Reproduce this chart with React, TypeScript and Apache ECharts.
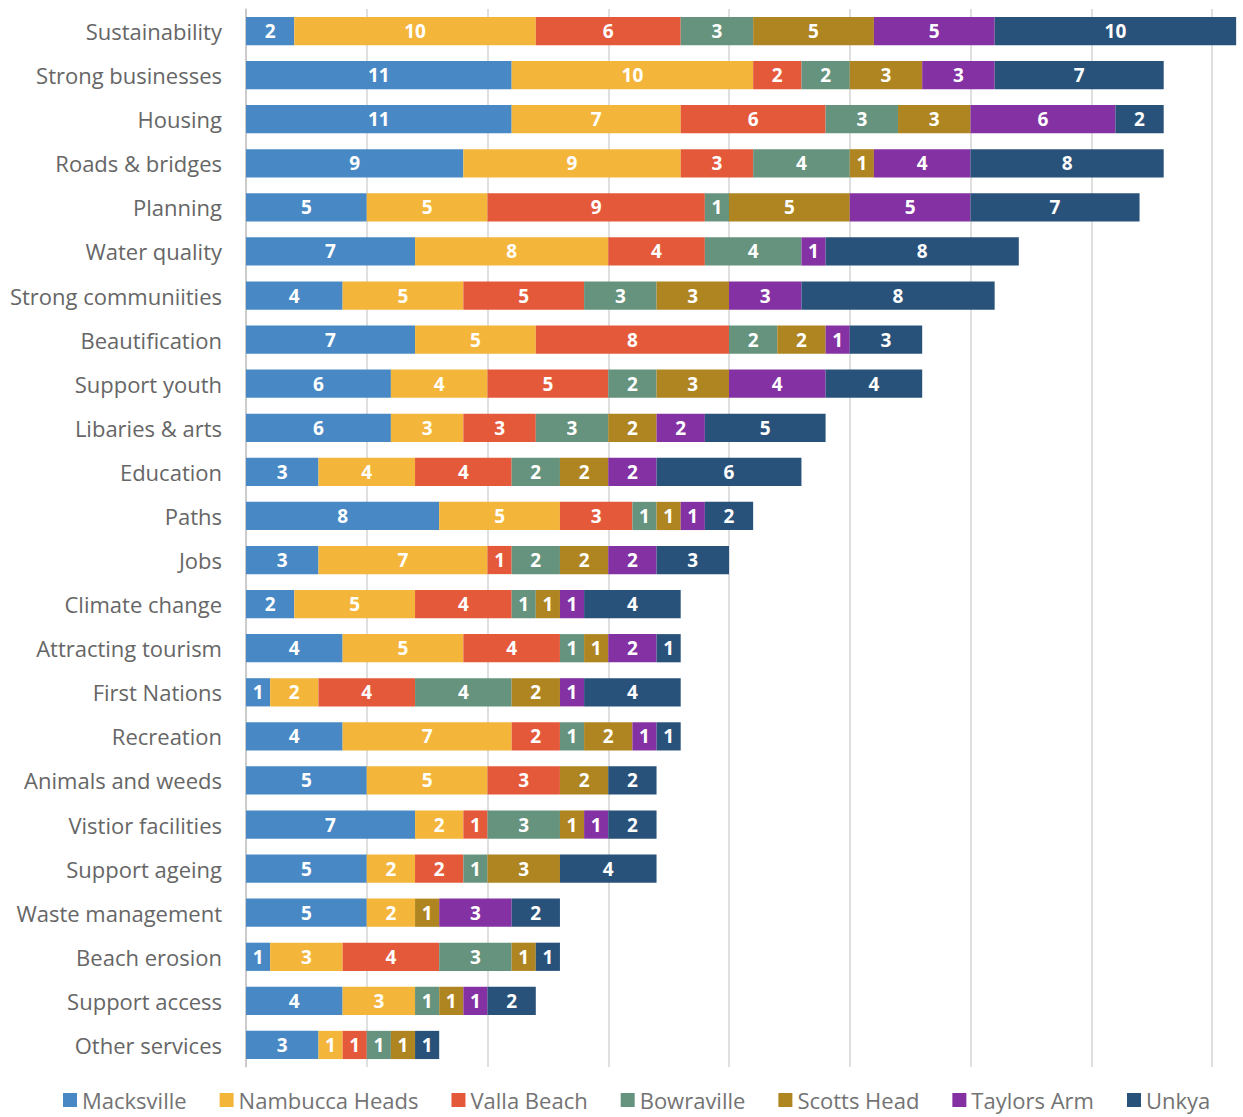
import React, { useEffect, useRef } from "react";
import * as echarts from "echarts";

const categories = [
  "Sustainability",
  "Strong businesses",
  "Housing",
  "Roads & bridges",
  "Planning",
  "Water quality",
  "Strong communiities",
  "Beautification",
  "Support youth",
  "Libaries & arts",
  "Education",
  "Paths",
  "Jobs",
  "Climate change",
  "Attracting tourism",
  "First Nations",
  "Recreation",
  "Animals and weeds",
  "Vistior facilities",
  "Support ageing",
  "Waste management",
  "Beach erosion",
  "Support access",
  "Other services",
];

const macksville = [2, 11, 11, 9, 5, 7, 4, 7, 6, 6, 3, 8, 3, 2, 4, 1, 4, 5, 7, 5, 5, 1, 4, 3];
const nambuccaHeads = [10, 10, 7, 9, 5, 8, 5, 5, 4, 3, 4, 5, 7, 5, 5, 2, 7, 5, 2, 2, 2, 3, 3, 1];
const vallaBeach = [6, 2, 6, 3, 9, 4, 5, 8, 5, 3, 4, 3, 1, 4, 4, 4, 2, 3, 1, 2, 0, 4, 0, 1];
const bowraville = [3, 2, 3, 4, 1, 4, 3, 2, 2, 3, 2, 1, 2, 1, 1, 4, 1, 0, 3, 1, 0, 3, 1, 1];
const scottsHead = [5, 3, 3, 1, 5, 0, 3, 2, 3, 2, 2, 1, 2, 1, 1, 2, 2, 2, 1, 3, 1, 1, 1, 1];
const taylorsArm = [5, 3, 6, 4, 5, 1, 3, 1, 4, 2, 2, 1, 2, 1, 2, 1, 1, 0, 1, 0, 3, 0, 1, 0];
const unkya = [10, 7, 2, 8, 7, 8, 8, 3, 4, 5, 6, 2, 3, 4, 1, 4, 1, 2, 2, 4, 2, 1, 2, 1];

const seriesNames = [
  "Macksville",
  "Nambucca Heads",
  "Valla Beach",
  "Bowraville",
  "Scotts Head",
  "Taylors Arm",
  "Unkya",
];
const seriesData = [macksville, nambuccaHeads, vallaBeach, bowraville, scottsHead, taylorsArm, unkya];
const colors = ["#4889C5", "#F4B63A", "#E5593B", "#66937D", "#AE8520", "#8431A3", "#29527A"];

const FONT = "'Open Sans', 'Noto Sans', sans-serif";

export default function App() {
  const ref = useRef<HTMLDivElement>(null);

  useEffect(() => {
    if (!ref.current) return;
    const chart = echarts.init(ref.current, undefined, { renderer: "svg" });
    chart.setOption({
      animation: false,
      color: colors,
      grid: { left: 246, right: 31, top: 9, bottom: 50, containLabel: false },
      legend: {
        top: 1088,
        left: 63,
        padding: 0,
        itemWidth: 14,
        itemHeight: 14,
        itemGap: 33,
        icon: "rect",
        textStyle: { fontFamily: FONT, fontSize: 22, color: "#737373", lineHeight: 24 },
        data: seriesNames,
      },
      xAxis: {
        type: "value",
        min: 0,
        max: 40,
        interval: 5,
        axisLabel: { show: false },
        axisLine: { show: false },
        axisTick: { show: false },
        splitLine: { show: true, lineStyle: { color: "#d4d4d4", width: 1.5 } },
      },
      yAxis: {
        type: "category",
        data: categories,
        inverse: true,
        axisLine: { show: true, lineStyle: { color: "#c4c4c4", width: 1.5 } },
        axisTick: { show: false },
        axisLabel: {
          margin: 24,
          fontFamily: FONT,
          fontSize: 22,
          color: "#666666",
        },
      },
      series: seriesNames.map((name, i) => ({
        name,
        type: "bar",
        stack: "total",
        clip: false,
        barCategoryGap: "36%",
        data: seriesData[i],
        itemStyle: { color: colors[i] },
        label: {
          show: true,
          position: "inside",
          color: "#ffffff",
          fontFamily: FONT,
          fontWeight: "bold",
          fontSize: 19,
          formatter: (p: any) => (p.value ? String(p.value) : ""),
        },
      })),
    });
    return () => chart.dispose();
  }, []);

  return (
    <div
      ref={ref}
      style={{ position: "absolute", left: 0, top: 0, width: 1243, height: 1117 }}
    />
  );
}
